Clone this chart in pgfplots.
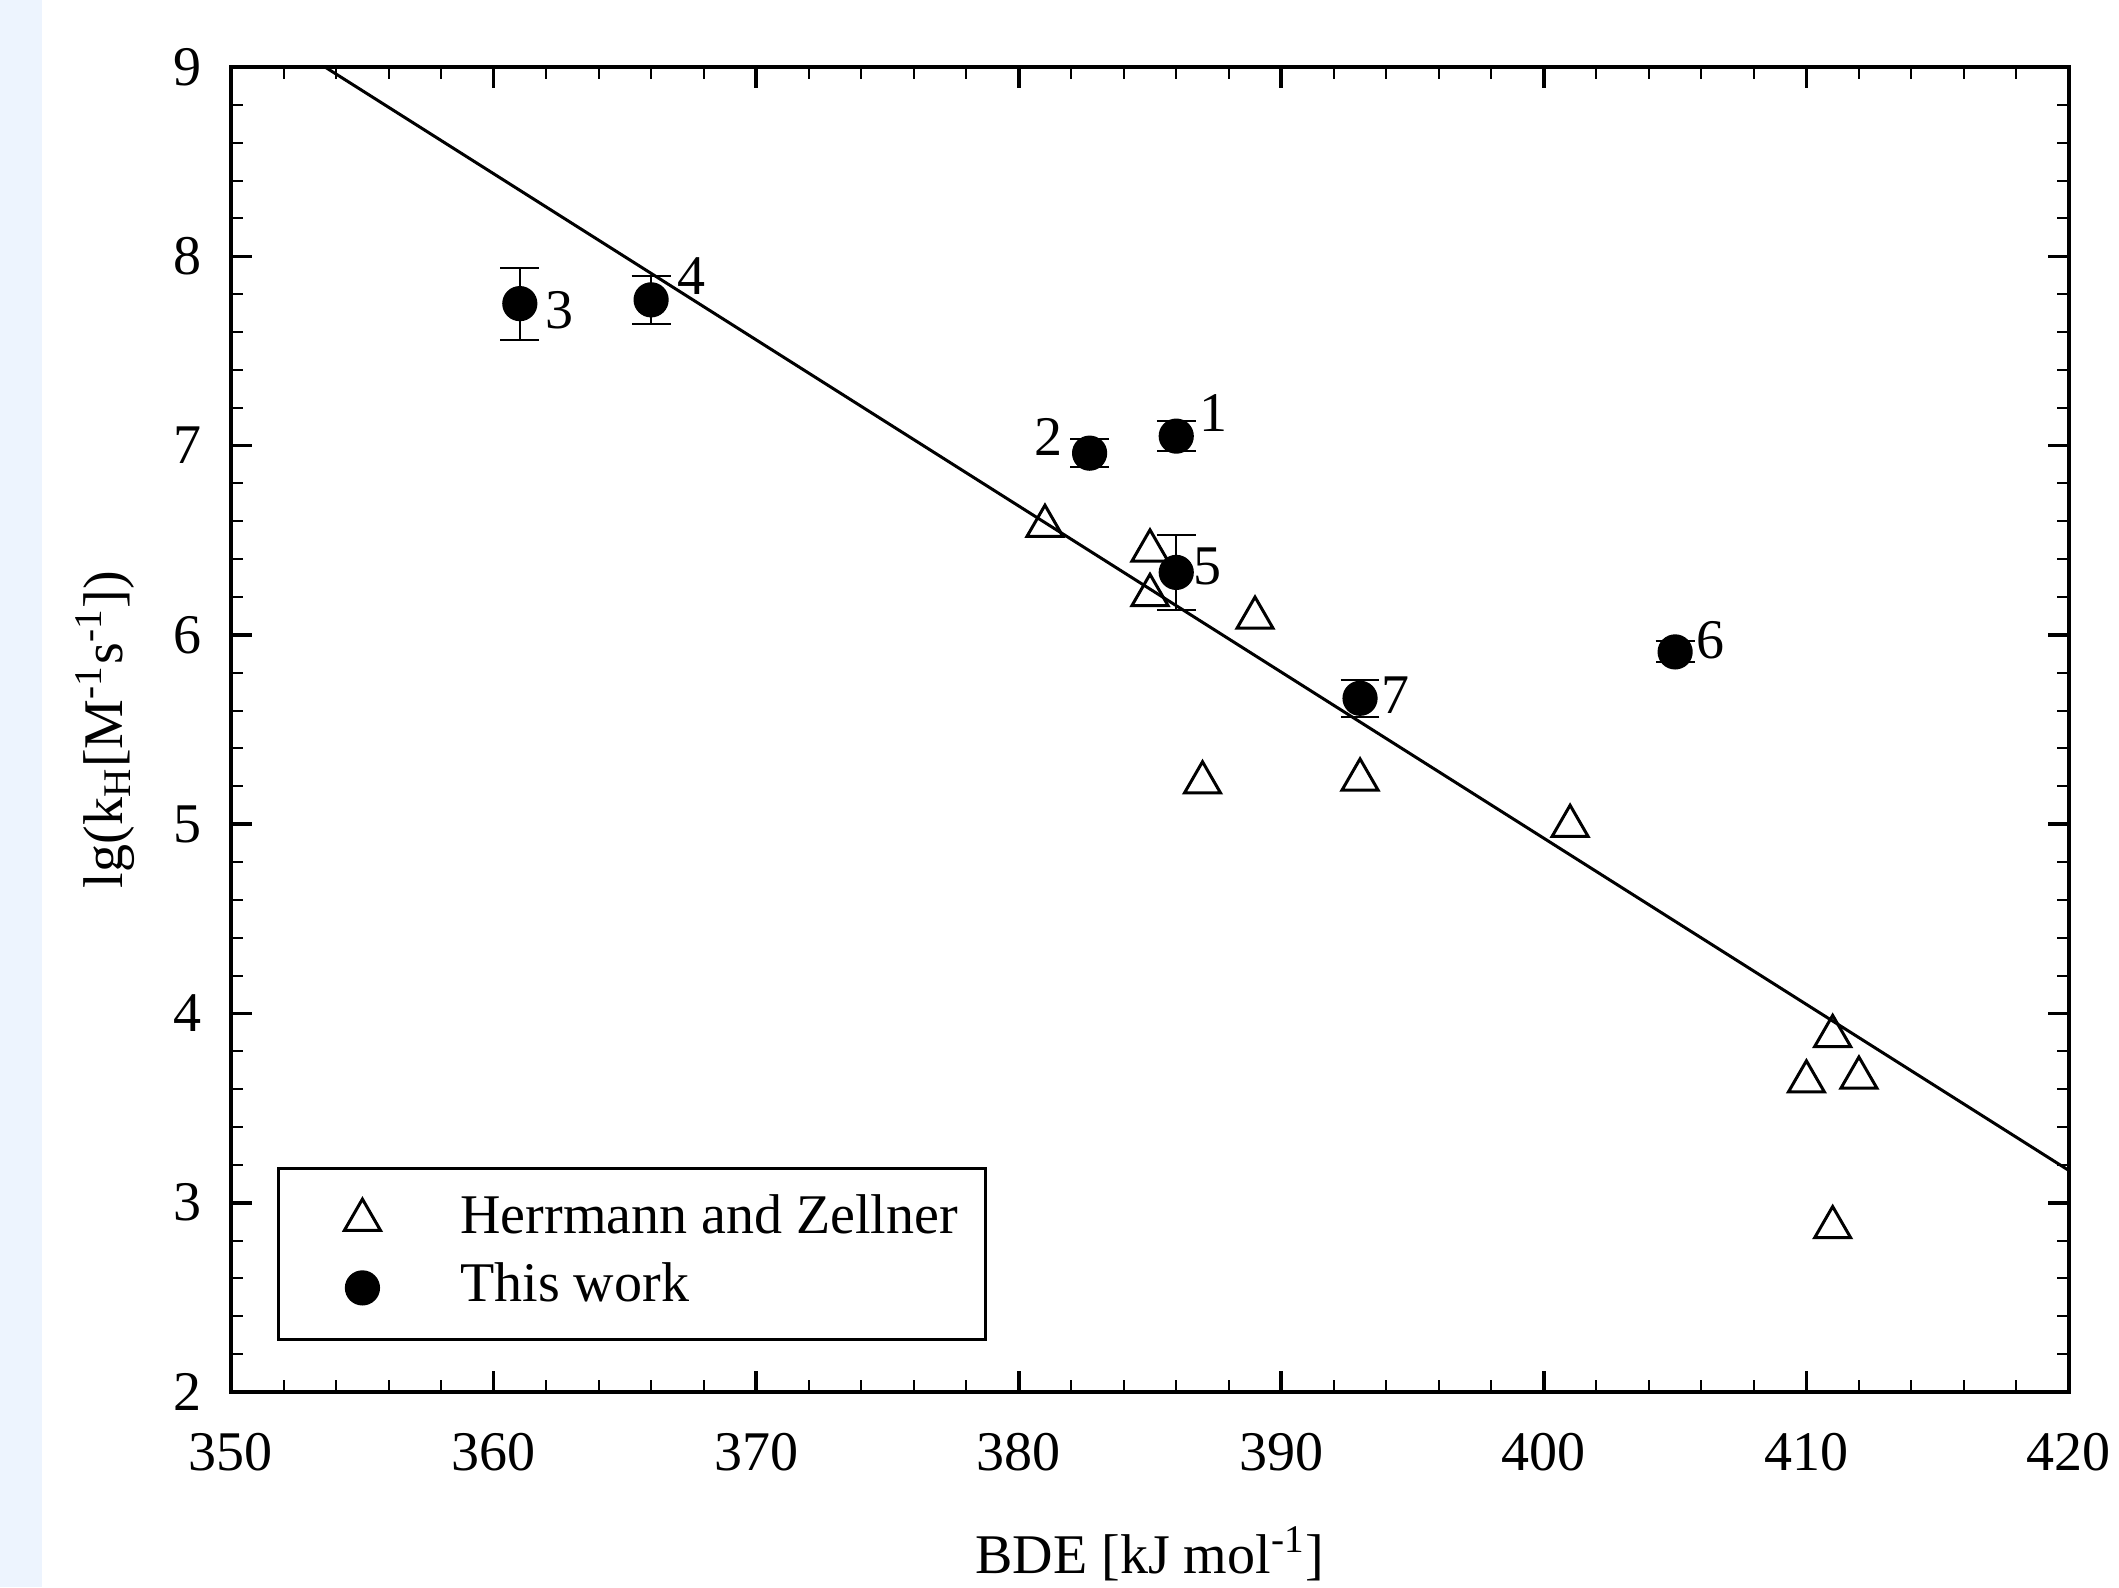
\documentclass[border=0pt]{standalone}
\usepackage{pgfplots}
\pgfplotsset{compat=1.18}
\usepackage{fontspec}
\setmainfont{Liberation Serif}
\definecolor{stripblue}{RGB}{237,244,254}
\newcommand{\fs}{\fontsize{14}{16.8}\selectfont}

\begin{document}
\begin{tikzpicture}
\fill[stripblue] (-57.75pt,-48.75pt) rectangle (-47.25pt,348pt);
\path[use as bounding box] (-57.75pt,-48.75pt) rectangle (472pt,348pt);
\begin{axis}[
  at={(0pt,0pt)}, anchor=south west,
  scale only axis, width=459.5pt, height=331.25pt,
  xmin=350, xmax=420, ymin=2, ymax=9,
  xtick={350,360,...,420}, ytick={2,3,...,9},
  minor x tick num=4, minor y tick num=4,
  tick align=inside,
  major tick length=5.2pt, minor tick length=3pt,
  axis line style={line width=1pt},
  major tick style={line width=0.9pt, black},
  minor tick style={line width=0.5pt, black},
  font=\fs,
  /pgf/number format/assume math mode=true,
  /pgf/number format/1000 sep={},
  xticklabel style={font=\fs, inner sep=0pt, anchor=north, yshift=-10pt},
  yticklabel style={font=\fs, inner sep=0pt, anchor=east, xshift=-7.25pt},
  xlabel={BDE [kJ mol\textsuperscript{-1}]},
  ylabel={lg(k\textsubscript{H}[M\textsuperscript{-1}s\textsuperscript{-1}])},
  xlabel style={at={(axis description cs:0.5,-0.137)}, anchor=base, font=\fs},
  ylabel style={at={(axis description cs:-0.0686,0.5)}, anchor=center, font=\fs},
  legend style={at={(0.025,0.0385)}, anchor=south west, draw=black, line width=0.75pt,
    inner xsep=2pt, inner ysep=4.4pt, font=\fs, row sep=0pt,
    nodes={inner sep=2pt, text height=10pt, text depth=3pt}},
  legend cell align=left,
  legend image code/.code={\path[draw=none,fill=none] (0pt,-4pt) rectangle (41.5pt,4pt); \draw[#1] plot coordinates {(19pt,0pt)};},
]
\addplot[black, line width=0.75pt, forget plot] coordinates {(353.58,9) (420,3.17)};

\addplot[only marks, mark=triangle, mark size=5.2pt,
  mark options={fill=white, draw=black, line width=0.75pt}] coordinates {
  (381,6.575) (385,6.445) (385,6.21) (389,6.09) (387,5.22) (393,5.235)
  (401,4.99) (411,3.88) (410,3.64) (412,3.66) (411,2.87)
};
\addlegendentry{Herrmann and Zellner\rule{3pt}{0pt}}

\addplot[only marks, mark=*, mark size=4.2pt,
  mark options={fill=black, draw=black, line width=0.4pt},
  error bars/.cd, y dir=both, y explicit, error mark=|,
  error bar style={line width=0.5pt, black},
  error mark options={mark size=4.85pt, line width=0.5pt, black}] coordinates {
  (386.0,7.05) +- (0,0.08)
  (382.7,6.96) +- (0,0.075)
  (361.0,7.75) +- (0,0.19)
  (366.0,7.77) +- (0,0.125)
  (386.0,6.33) +- (0,0.20)
  (405.0,5.91) +- (0,0.055)
  (393.0,5.665) +- (0,0.097)
};
\addlegendentry{This work}

\node[font=\fs, inner sep=0pt, xshift=9.3pt, yshift=5.8pt] at (axis cs:386.0,7.05) {1};
\node[font=\fs, inner sep=0pt, xshift=-10.25pt, yshift=4.15pt] at (axis cs:382.7,6.96) {2};
\node[font=\fs, inner sep=0pt, xshift=10pt, yshift=-1.75pt] at (axis cs:361.0,7.75) {3};
\node[font=\fs, inner sep=0pt, xshift=10.2pt, yshift=6pt] at (axis cs:366.0,7.77) {4};
\node[font=\fs, inner sep=0pt, xshift=7.7pt, yshift=1.5pt] at (axis cs:386.0,6.33) {5};
\node[font=\fs, inner sep=0pt, xshift=8.9pt, yshift=2.9pt] at (axis cs:405.0,5.91) {6};
\node[font=\fs, inner sep=0pt, xshift=8.75pt, yshift=0.8pt] at (axis cs:393.0,5.665) {7};
\end{axis}
\end{tikzpicture}
\end{document}
